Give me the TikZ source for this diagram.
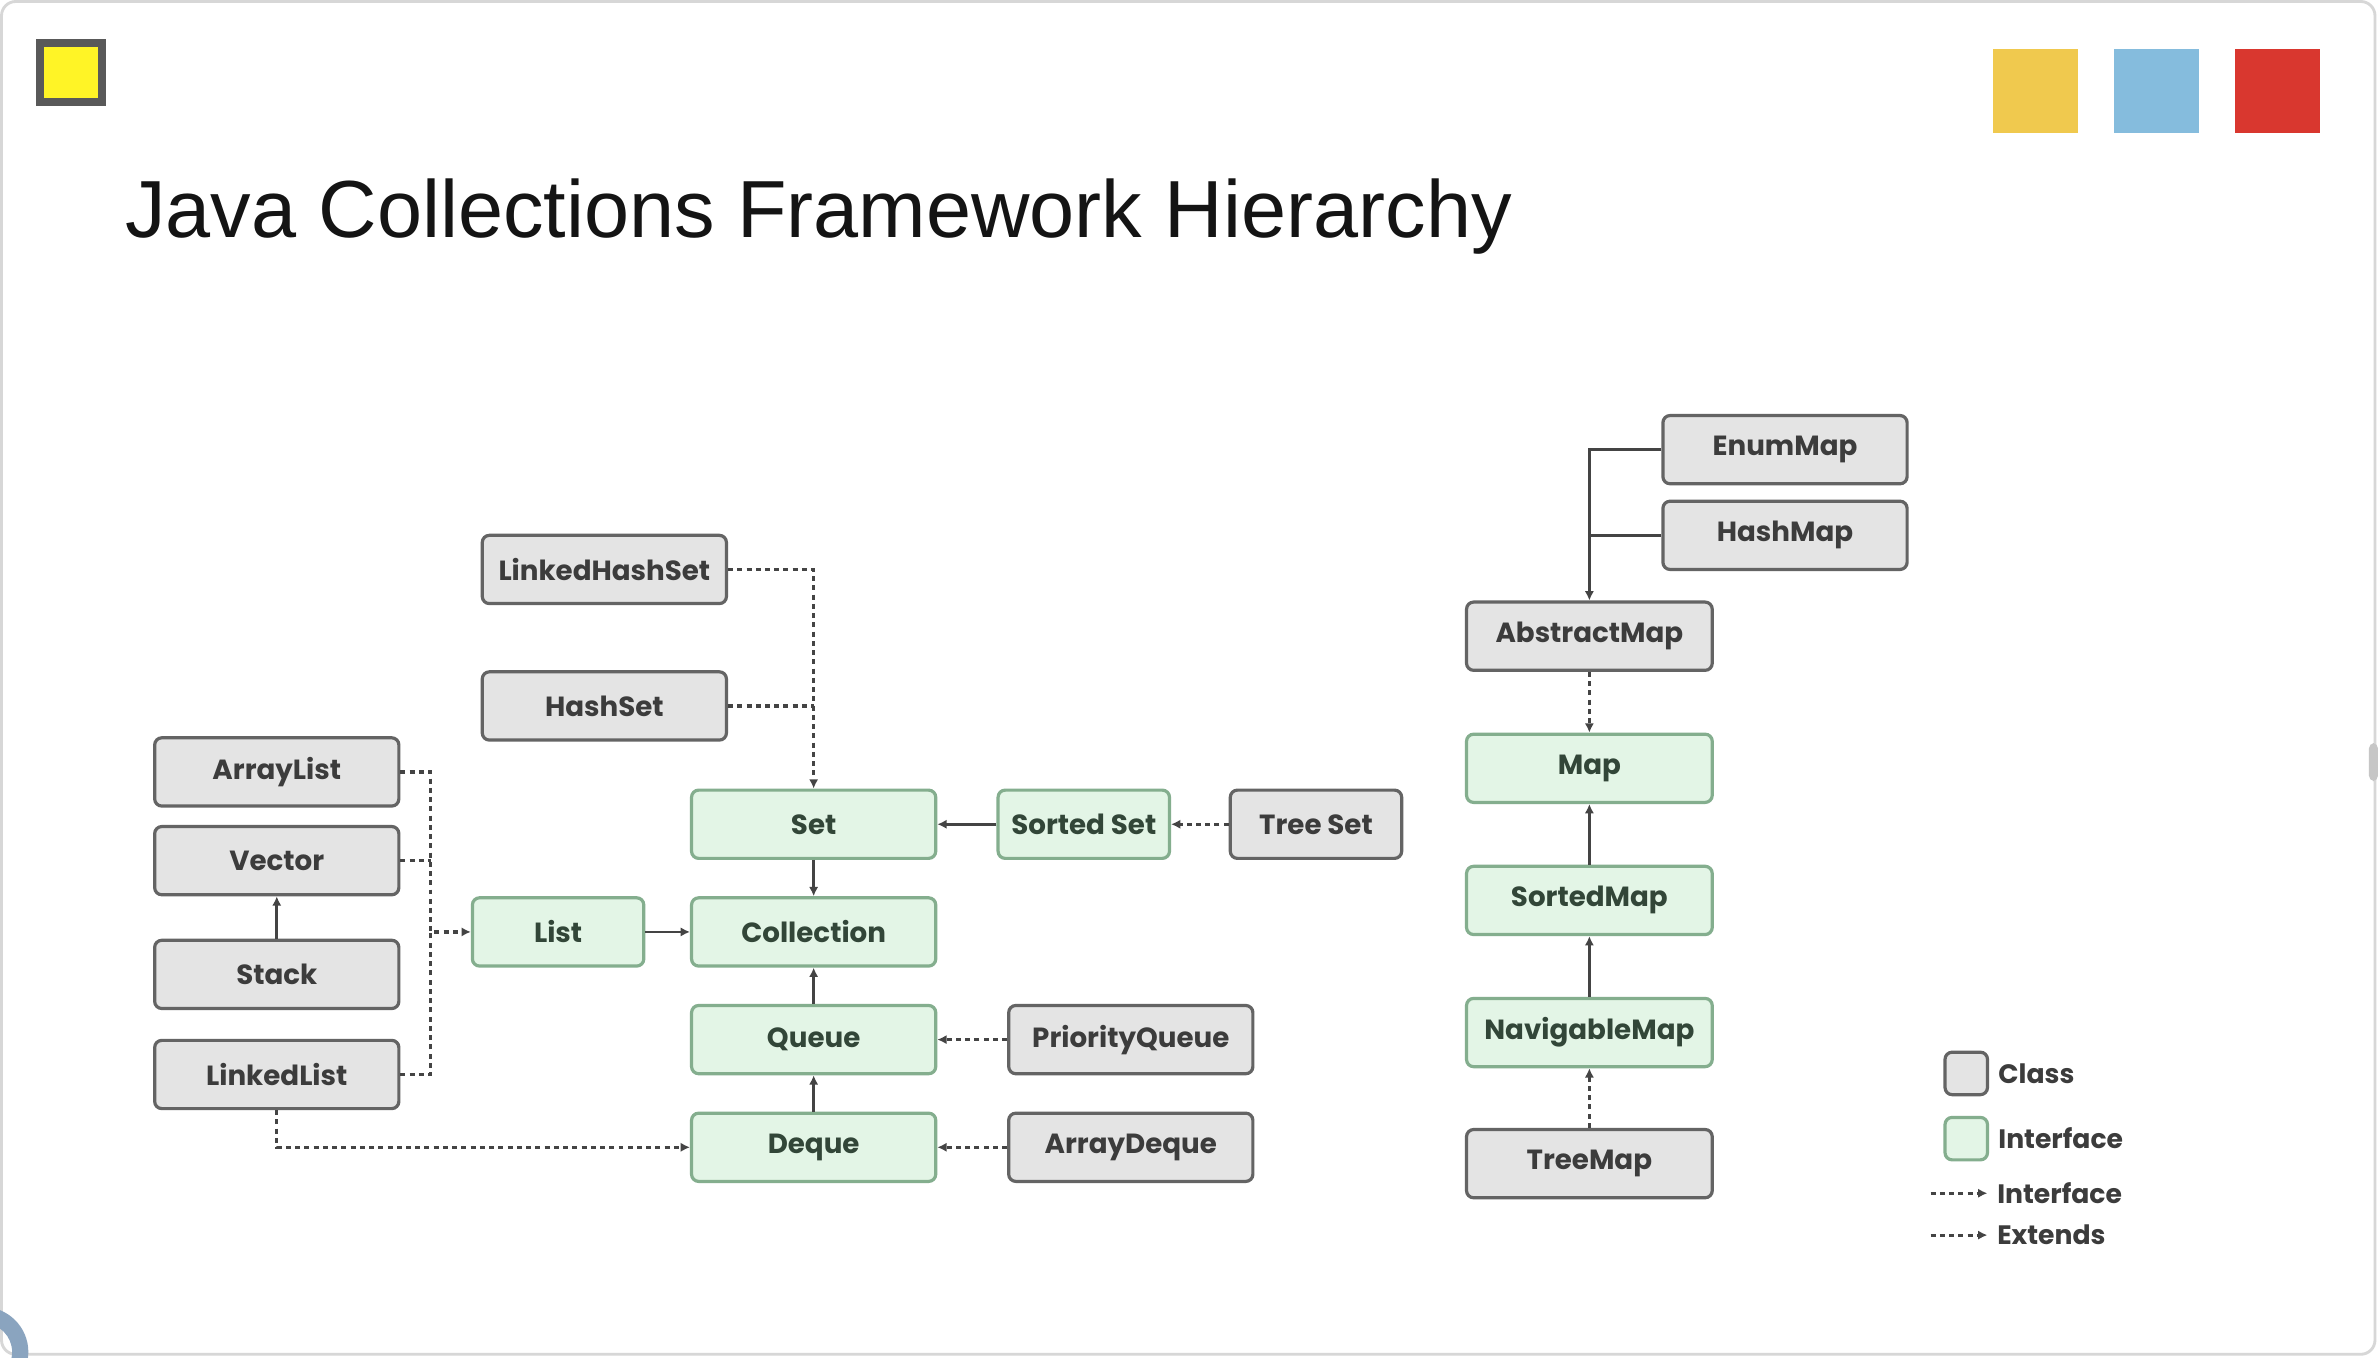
\documentclass[tikz,border=0pt]{standalone}
\usepackage{fontspec}
\setmainfont{Liberation Sans}
\newfontfamily\boxfont{Poppins}
\usepackage{xcolor}
\usetikzlibrary{arrows.meta, positioning}

\definecolor{clsfill}{RGB}{228,228,228}
\definecolor{clsline}{RGB}{100,100,100}
\definecolor{clstext}{RGB}{60,60,60}
\definecolor{ifcfill}{RGB}{227,245,230}
\definecolor{ifcline}{RGB}{132,174,142}
\definecolor{ifctext}{RGB}{50,70,56}
\definecolor{linkgray}{RGB}{68,68,68}
\definecolor{framegray}{RGB}{215,215,215}
\definecolor{ringblue}{RGB}{138,164,191}

\begin{document}
\begin{tikzpicture}[
  x=0.015cm, y=-0.015cm,
  box/.style={rectangle, rounded corners=2pt, line width=0.9pt, inner sep=0pt,
    minimum width=2.415cm, minimum height=0.675cm,
    font={\boxfont\bfseries\fontsize{7.8}{9}\selectfont}},
  cls/.style={box, draw=clsline, fill=clsfill, text=clstext},
  iface/.style={box, draw=ifcline, fill=ifcfill, text=ifctext},
  narrow/.style={minimum width=1.695cm},
  link/.style={-{Latex[length=2.6pt, width=2.6pt]}, draw=linkgray, line width=0.75pt},
  dlink/.style={link, line width=0.9pt, dash pattern=on 1.4pt off 1.2pt},
  lgtext/.style={inner sep=0pt, anchor=west, text=clstext,
    font={\boxfont\bfseries\fontsize{7.5}{9}\selectfont}}
]
\useasboundingbox (0,0) rectangle (1568,895);
\fill[white] (0,0) rectangle (1568,895);
\draw[framegray, line width=0.8pt, rounded corners=4pt] (1,1) rectangle (1566,893);
\fill[gray!45, rounded corners=1.5pt] (1562,490) rectangle (1568,515);
\begin{scope}
  \clip (0,0) rectangle (1568,895);
  \fill[ringblue, even odd rule] (-11,891.5) circle[radius=29.7] (-11,891.5) circle[radius=19];
\end{scope}

% header
\draw[draw=black!65, fill=yellow!85!white, line width=2.2pt] (26.5,28.5) rectangle (67,67);
\node[anchor=base west, inner sep=0pt, text=black!92, font={\fontsize{22.8}{27}\selectfont}] (title) at (82,156.6) {Java Collections Framework Hierarchy};
\fill[fill={rgb,255:red,240;green,201;blue,78}] (1314,32.5) rectangle (1370,87.5);
\fill[fill={rgb,255:red,133;green,188;blue,221}] (1394,32.5) rectangle (1450,87.5);
\fill[fill={rgb,255:red,217;green,55;blue,47}] (1474,32.5) rectangle (1530,87.5);

% collection side
\node[cls] (lhset) at (398.5,375.5) {LinkedHashSet};
\node[cls] (hset) at (398.5,465.5) {HashSet};
\node[cls] (alist) at (182.5,509) {ArrayList};
\node[cls] (vect) at (182.5,567.5) {Vector};
\node[cls] (stack) at (182.5,642.5) {Stack};
\node[cls] (llist) at (182.5,708.5) {LinkedList};
\node[iface, narrow] (list) at (368,614.5) {List};
\node[iface] (set) at (536.5,543.5) {Set};
\node[iface, narrow, right=0.585cm of set] (sset) {Sorted Set};
\node[cls, narrow, right=0.57cm of sset] (tset) {Tree Set};
\node[iface] (coll) at (536.5,614.5) {Collection};
\node[iface] (queue) at (536.5,685.5) {Queue};
\node[cls, right=0.69cm of queue] (pqueue) {PriorityQueue};
\node[iface] (deque) at (536.5,756.5) {Deque};
\node[cls, right=0.69cm of deque] (adeque) {ArrayDeque};

% map side
\node[cls] (emap) at (1177,296.5) {EnumMap};
\node[cls] (hmap) at (1177,353) {HashMap};
\node[cls, minimum width=2.43cm] (amap) at (1048,419.5) {AbstractMap};
\node[iface, minimum width=2.43cm, below=0.6cm of amap] (map) {Map};
\node[iface, minimum width=2.43cm, below=0.6cm of map] (smap) {SortedMap};
\node[iface, minimum width=2.43cm, below=0.6cm of smap] (nmap) {NavigableMap};
\node[cls, minimum width=2.43cm, below=0.59cm of nmap] (tmap) {TreeMap};

\coordinate (ljoin) at (284,614.5);

\draw[dlink] (lhset.east) -| (set.north);
\draw[dlink, -] (hset.east) -- (hset.east -| set.north);
\draw[dlink] (alist.east) -| (ljoin) -- (list.west);
\draw[dlink, -] (vect.east) -- (vect.east -| ljoin);
\draw[dlink, -] (llist.east) -| (ljoin);
\draw[link] (stack) -- (vect);
\draw[link] (list) -- (coll);
\draw[link] (set) -- (coll);
\draw[link] (queue) -- (coll);
\draw[link] (deque) -- (queue);
\draw[link] (sset) -- (set);
\draw[dlink] (tset) -- (sset);
\draw[dlink] (pqueue) -- (queue);
\draw[dlink] (adeque) -- (deque);
\draw[dlink] (llist.south) |- (deque.west);

\draw[link] (emap.west) -| (amap.north);
\draw[link, -] (hmap.west) -- (hmap.west -| amap.north);
\draw[dlink] (amap) -- (map);
\draw[link] (smap) -- (map);
\draw[link] (nmap) -- (smap);
\draw[dlink] (tmap) -- (nmap);

% legend
\node[cls, minimum width=0.42cm, minimum height=0.42cm] (lgcls) at (1296.5,707.8) {};
\node[lgtext, right=0.085cm of lgcls] (lgclstext) {Class};
\node[iface, minimum width=0.42cm, minimum height=0.42cm] (lgifc) at (1296.5,750.8) {};
\node[lgtext, right=0.085cm of lgifc] (lgifctext) {Interface};
\coordinate (lgimplstart) at (1273,786.8);
\node[lgtext] (lgimpl) at (1316.5,786.8) {Interface};
\coordinate (lgextstart) at (1273,814.4);
\node[lgtext] (lgext) at (1316.5,814.4) {Extends};
\draw[dlink, shorten >=2.6pt] (lgimplstart) -- (lgimpl.west);
\draw[dlink, shorten >=2.6pt] (lgextstart) -- (lgext.west);
\end{tikzpicture}
\end{document}
